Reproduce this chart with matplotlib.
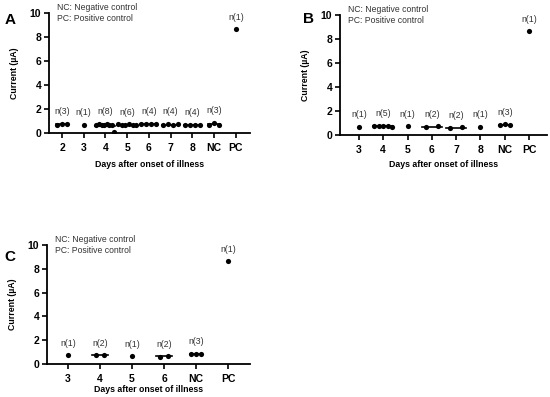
import matplotlib
matplotlib.use("Agg")
import matplotlib.pyplot as plt
import numpy as np

plt.rcParams['font.family'] = ['Liberation Sans', 'DejaVu Sans']

# ---- data ----
cats_a = ["2", "3", "4", "5", "6", "7", "8", "NC", "PC"]
vals_a = [
    [0.70, 0.75, 0.72],
    [0.70],
    [0.70, 0.72, 0.65, 0.68, 0.75, 0.70, 0.66, 0.10],
    [0.72, 0.70, 0.68, 0.74, 0.66, 0.70],
    [0.72, 0.74, 0.73, 0.75],
    [0.65, 0.72, 0.70, 0.76],
    [0.65, 0.66, 0.68, 0.67],
    [0.65, 0.85, 0.70],
    [8.65],
]
cats_b = ["3", "4", "5", "6", "7", "8", "NC", "PC"]
vals_b = [
    [0.68],
    [0.72, 0.75, 0.78, 0.74, 0.68],
    [0.72],
    [0.68, 0.72],
    [0.62, 0.63],
    [0.70],
    [0.86, 0.88, 0.85],
    [8.65],
]
cats_c = ["3", "4", "5", "6", "NC", "PC"]
vals_c = [
    [0.72],
    [0.72, 0.72],
    [0.68],
    [0.62, 0.65],
    [0.82, 0.85, 0.84],
    [8.65],
]
yticks = [0, 2, 4, 6, 8, 10]

W, H = 550, 397
fig = plt.figure(figsize=(W / 100, H / 100), dpi=100)


def make_ax(l, r, t, b):
    return fig.add_axes([l / W, 1 - b / H, (r - l) / W, (b - t) / H])


panels = [
    ("A", cats_a, vals_a, (49, 250, 13, 133), (-0.6, len(cats_a) - 1 + 0.65), 10, 5, (10, 20)),
    ("B", cats_b, vals_b, (340, 547, 15, 135), (-0.78, len(cats_b) - 1 + 0.74), 12, 3, (308, 19)),
    ("C", cats_c, vals_c, (47, 250, 245, 364), (-0.66, len(cats_c) - 1 + 0.69), 8, 0.5, (10, 257)),
]

for letter, cats, vals, (l, r, t, b), xlim, pair_px, lpad, (lx, ly) in panels:
    ax = make_ax(l, r, t, b)
    ax.set_xlim(*xlim)
    ax.set_ylim(0, 10)
    px_per_unit = (r - l) / (xlim[1] - xlim[0])
    for i, v in enumerate(vals):
        n = len(v)
        if n == 1:
            width_px = 0
        elif n == 2:
            width_px = pair_px
        else:
            width_px = min(5 * (n - 1), 18)
        offs = (np.linspace(-0.5, 0.5, n) if n > 1 else np.array([0.0])) * width_px / px_per_unit
        m = np.mean(v)
        if n > 1:
            ext = 4 if n == 2 else 1
            hw = (width_px / 2 + ext) / px_per_unit
            ax.plot([i - hw, i + hw], [m, m], color='black', lw=1.2, zorder=2)
        ax.scatter(i + offs, v, s=14, color='black', zorder=3, linewidths=0)
        ax.text(i, max(v) + 1.0, f"n({n})", ha='center', va='center', fontsize=6.3, color='#333333')
    ax.set_xticks(range(len(cats)))
    ax.set_xticklabels(cats, fontweight='bold', fontsize=7.5)
    ax.set_yticks(yticks)
    ax.set_yticklabels([str(y) for y in yticks], fontweight='bold', fontsize=7.5)
    for s in ['top', 'right']:
        ax.spines[s].set_visible(False)
    for s in ['left', 'bottom']:
        ax.spines[s].set_linewidth(1.3)
    ax.tick_params(axis='both', width=1.2, length=3.5, pad=2)
    ax.tick_params(axis='x', pad=4)
    ax.set_ylabel("Current (µA)", fontweight='bold', fontsize=6.3, labelpad=8)
    ax.set_xlabel("Days after onset of illness", fontweight='bold', fontsize=6.3, labelpad=lpad)
    ax.text(0.04, 1.0, "NC: Negative control\nPC: Positive control", transform=ax.transAxes,
            fontsize=6.2, va='center', ha='left', color='#333333', linespacing=1.35)
    fig.text(lx / W, 1 - ly / H, letter, fontsize=11, fontweight='bold', ha='center', va='center')

fig.savefig("out.png", dpi=100)
